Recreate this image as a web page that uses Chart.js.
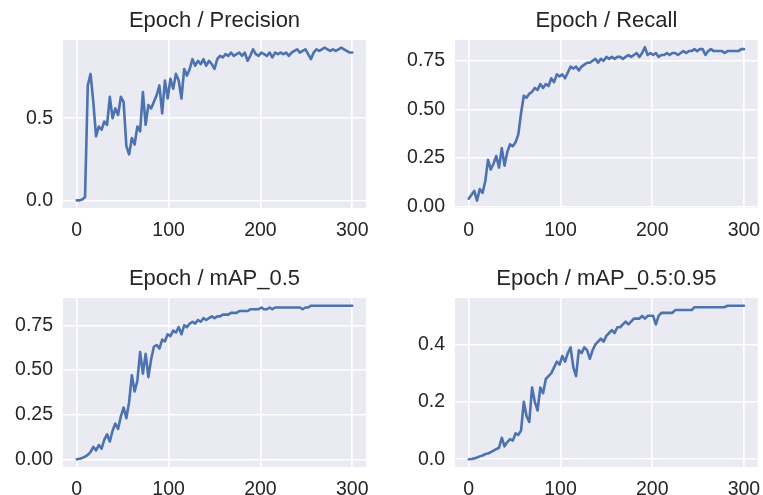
<!DOCTYPE html>
<html lang="en">
<head>
<meta charset="UTF-8">
<title>Training curves</title>
<script src="https://cdn.jsdelivr.net/npm/chart.js"></script>
<style>
  html,body{margin:0;padding:0;background:#fff}
  body{width:763px;height:495px;position:relative;overflow:hidden;font-family:"Liberation Sans",Arial,sans-serif}
  .panel{position:absolute}
</style>
</head>
<body>
<div class="panel" style="left:0;top:0;width:380px;height:248px"><canvas id="c1"></canvas></div>
<div class="panel" style="left:380px;top:0;width:383px;height:248px"><canvas id="c2"></canvas></div>
<div class="panel" style="left:0;top:258px;width:380px;height:249px"><canvas id="c3"></canvas></div>
<div class="panel" style="left:380px;top:258px;width:383px;height:249px"><canvas id="c4"></canvas></div>

<script>
// epochs sampled every 3
const epochs = [0,3,6,9,12,15,18,21,24,27,30,33,36,39,42,45,48,51,54,57,60,63,66,69,72,75,78,81,84,87,90,93,96,99,
  102,105,108,111,114,117,120,123,126,129,132,135,138,141,144,147,150,153,156,159,162,165,168,171,174,177,180,183,186,189,192,195,198,
  201,204,207,210,213,216,219,222,225,228,231,234,237,240,243,246,249,252,255,258,261,264,267,270,273,276,279,282,285,288,291,294,297,300];

const precision = [0.00,0.00,0.005,0.02,0.70,0.77,0.60,0.39,0.45,0.43,0.48,0.46,0.63,0.50,0.56,0.52,0.63,0.60,0.33,0.28,
  0.38,0.34,0.45,0.42,0.66,0.46,0.58,0.56,0.60,0.64,0.70,0.53,0.73,0.62,0.74,0.68,0.77,0.73,0.62,0.80,
  0.76,0.80,0.86,0.82,0.85,0.83,0.86,0.82,0.85,0.83,0.80,0.86,0.88,0.87,0.89,0.88,0.90,0.88,0.89,0.90,
  0.88,0.90,0.85,0.88,0.92,0.89,0.88,0.90,0.89,0.88,0.90,0.87,0.90,0.89,0.90,0.89,0.90,0.88,0.90,0.91,
  0.92,0.90,0.91,0.92,0.89,0.86,0.90,0.92,0.91,0.92,0.93,0.92,0.91,0.92,0.91,0.92,0.93,0.92,0.91,0.90,0.90];

const recall = [0.04,0.06,0.08,0.03,0.09,0.07,0.13,0.24,0.19,0.22,0.26,0.20,0.30,0.21,0.28,0.32,0.31,0.33,0.37,0.48,
  0.57,0.56,0.58,0.59,0.61,0.60,0.63,0.61,0.63,0.62,0.66,0.64,0.68,0.67,0.68,0.66,0.69,0.72,0.71,0.72,
  0.70,0.72,0.73,0.74,0.74,0.75,0.76,0.74,0.76,0.75,0.77,0.76,0.77,0.76,0.77,0.77,0.76,0.77,0.78,0.77,
  0.78,0.79,0.77,0.79,0.82,0.78,0.79,0.78,0.79,0.77,0.78,0.78,0.79,0.78,0.79,0.79,0.78,0.79,0.80,0.79,
  0.80,0.80,0.81,0.80,0.81,0.81,0.78,0.80,0.81,0.80,0.80,0.80,0.80,0.79,0.80,0.80,0.80,0.80,0.80,0.81,0.81];

const map50 = [0.00,0.003,0.008,0.015,0.025,0.04,0.07,0.05,0.08,0.06,0.11,0.14,0.10,0.16,0.20,0.17,0.24,0.29,0.23,0.32,
  0.47,0.38,0.44,0.60,0.48,0.59,0.46,0.56,0.63,0.64,0.62,0.67,0.66,0.70,0.69,0.72,0.71,0.74,0.70,0.75,
  0.74,0.76,0.77,0.76,0.78,0.77,0.79,0.78,0.79,0.80,0.79,0.80,0.80,0.81,0.81,0.81,0.82,0.82,0.82,0.83,
  0.83,0.83,0.83,0.84,0.84,0.84,0.84,0.85,0.84,0.84,0.85,0.84,0.85,0.85,0.85,0.85,0.85,0.85,0.85,0.85,
  0.85,0.85,0.84,0.85,0.85,0.86,0.86,0.86,0.86,0.86,0.86,0.86,0.86,0.86,0.86,0.86,0.86,0.86,0.86,0.86,0.86];

const map5095 = [0.000,0.001,0.003,0.006,0.010,0.013,0.018,0.020,0.025,0.030,0.035,0.040,0.075,0.045,0.060,0.070,0.065,0.090,0.085,0.100,
  0.200,0.150,0.130,0.250,0.200,0.170,0.250,0.230,0.280,0.290,0.300,0.320,0.340,0.330,0.360,0.340,0.370,0.390,0.320,0.290,
  0.380,0.370,0.390,0.380,0.350,0.380,0.400,0.410,0.420,0.410,0.430,0.440,0.450,0.440,0.460,0.460,0.470,0.480,0.470,0.480,
  0.490,0.490,0.490,0.500,0.490,0.500,0.500,0.500,0.470,0.500,0.510,0.510,0.510,0.510,0.510,0.520,0.520,0.520,0.520,0.520,
  0.520,0.520,0.530,0.530,0.530,0.530,0.530,0.530,0.530,0.530,0.530,0.530,0.530,0.530,0.535,0.535,0.535,0.535,0.535,0.535,0.535];

const xTicks = [0, 100, 200, 300];

const bgPlugin = {
  id: 'bg',
  beforeDraw(c) {
    const a = c.chartArea, ctx = c.ctx;
    ctx.save();
    ctx.fillStyle = '#eaeaf2';
    ctx.fillRect(a.left, a.top, a.right - a.left, a.bottom - a.top);
    ctx.restore();
  }
};

const tickFont = { family: '"Liberation Sans", Arial, sans-serif', size: 19.5 };

function panel(id, title, values, yMin, yMax, yTicks, dec, yWidth, padRight) {
  new Chart(document.getElementById(id), {
    type: 'line',
    data: {
      labels: epochs,
      datasets: [{ data: values, borderColor: '#4c72b0', borderWidth: 2.6, pointRadius: 0, tension: 0, fill: false,
        borderJoinStyle: 'round', borderCapStyle: 'round' }]
    },
    options: {
      responsive: true, maintainAspectRatio: false, animation: false,
      layout: { padding: { left: 0, right: padRight, top: 0, bottom: 0 } },
      plugins: {
        legend: { display: false }, tooltip: { enabled: false },
        title: { display: true, text: title, color: '#262626', fullSize: false,
          font: { family: '"Liberation Sans", Arial, sans-serif', size: 22, weight: 'normal' },
          padding: { top: 8, bottom: 5.6 } }
      },
      scales: {
        x: {
          type: 'linear', min: -15, max: 315,
          afterBuildTicks: s => { s.ticks = xTicks.map(v => ({ value: v })); },
          afterFit: s => { s.height = 40; s.paddingLeft = 0; s.paddingRight = 0; },
          ticks: { color: '#262626', font: tickFont, padding: 11, maxRotation: 0 },
          grid: { color: '#ffffff', lineWidth: 1.6, drawTicks: false },
          border: { display: false }
        },
        y: {
          min: yMin, max: yMax,
          afterBuildTicks: s => { s.ticks = yTicks.map(v => ({ value: v })); },
          afterFit: s => { s.width = yWidth; s.paddingTop = 0; s.paddingBottom = 0; },
          ticks: { color: '#262626', font: tickFont, padding: 10, callback: v => v.toFixed(dec) },
          grid: { color: '#ffffff', lineWidth: 1.6, drawTicks: false },
          border: { display: false }
        }
      }
    },
    plugins: [bgPlugin]
  });
}

panel('c1', 'Epoch / Precision', precision, -0.0465, 0.9765, [0, 0.5], 1, 63, 14);
panel('c2', 'Epoch / Recall', recall, -0.008, 0.857, [0, 0.25, 0.5, 0.75], 2, 75, 5.3);
panel('c3', 'Epoch / mAP_0.5', map50, -0.043, 0.903, [0, 0.25, 0.5, 0.75], 2, 63, 14);
panel('c4', 'Epoch / mAP_0.5:0.95', map5095, -0.027, 0.562, [0, 0.2, 0.4], 1, 75, 5.3);
</script>
</body>
</html>
